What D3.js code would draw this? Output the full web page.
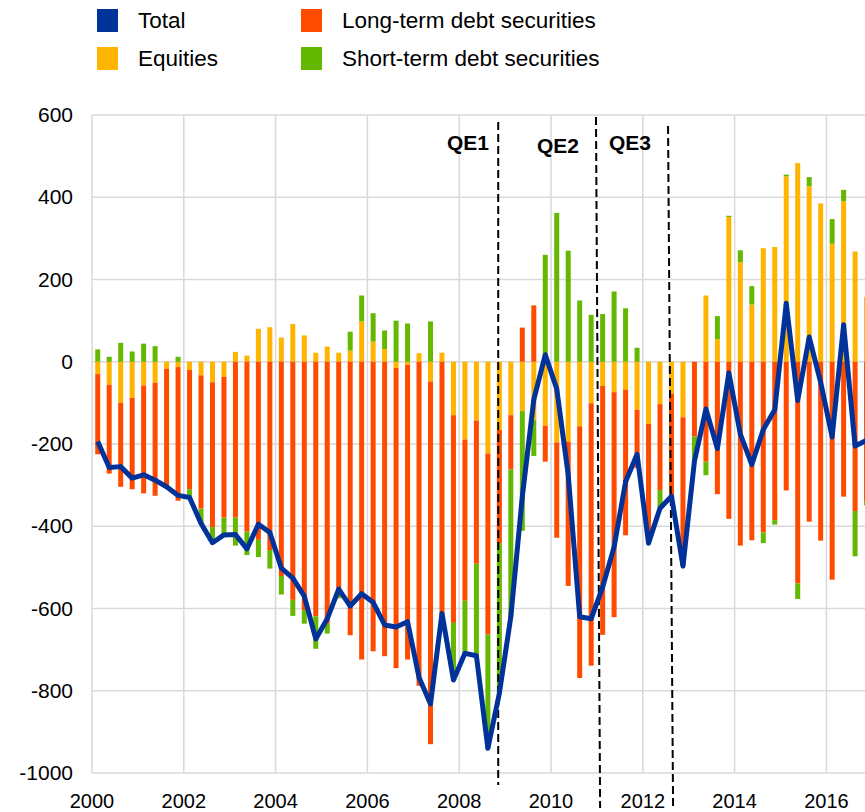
<!DOCTYPE html>
<html>
<head>
<meta charset="utf-8">
<script src="https://cdn.jsdelivr.net/npm/d3@7"></script>
<style>
  body { margin: 0; background: #fff; }
  svg { display: block; font-family: "Liberation Sans", Arial, sans-serif; }
</style>
</head>
<body>
<svg id="chart" width="865" height="812"></svg>
<script>
// quarterly data, 2000Q1 .. 2016Q4
const longTerm = [-195,-216,-204,-222,-262,-275,-287,-325,-290,-324,-352,-342,-379,-413,-433,-458,
  -521,-579,-604,-619,-637,-563,-665,-724,-704,-716,-730,-717,-788,-882,-635,-505,
  -392,-348,-440,-275,-132,83,137,-87,-232,-350,-612,-638,-605,-547,-354,-142,
  -290,-209,-250,-362,-182,-243,-322,-382,-447,-434,-415,-385,-313,-539,-389,-435,
  -530,-328,-363,-339];
const equities = [-30,-56,-100,-88,-58,-51,-17,-13,-20,-33,-50,-37,24,15,80,84,
  59,92,64,22,37,22,27,98,49,31,-15,-7,21,-48,22,-130,
  -189,-143,-223,-166,-130,-120,-142,-156,-196,-195,-157,-101,-59,-74,-68,-117,
  -151,-103,-77,-135,0,161,55,352,242,139,276,279,451,483,427,385,
  287,390,268,158];
const shortTerm = [30,12,46,25,44,38,0,12,-18,-37,-32,-42,-68,-57,-42,-45,
  -45,-39,-33,-79,-24,-12,46,63,69,45,100,93,0,98,0,-139,
  -128,-224,-277,-365,-358,-291,-87,260,362,270,149,114,116,171,130,34,
  0,-44,0,0,-60,-33,56,3,29,45,-26,-11,4,-38,22,0,
  60,28,-110,-10];
const total = [-194,-257,-255,-283,-275,-288,-304,-325,-330,-393,-440,-421,-420,-455,-395,-415,
  -502,-526,-570,-674,-625,-553,-594,-564,-585,-640,-645,-632,-768,-832,-612,-774,
  -709,-715,-940,-806,-620,-328,-92,17,-66,-275,-620,-625,-548,-450,-292,-225,
  -441,-356,-327,-497,-242,-115,-211,-27,-176,-250,-165,-117,142,-94,60,-50,
  -183,90,-205,-191];

const yTicks = [600,400,200,0,-200,-400,-600,-800,-1000];
const xTicks = [2000,2002,2004,2006,2008,2010,2012,2014,2016];

const qeLabels = ["QE1","QE2","QE3"];
const qeStart = [2008.85, 2010.98, 2012.55];   // top of dashed line
const qeEnd = [2008.85, 2011.07, 2012.66];     // bottom of dashed line

const seriesNames = ["Total","Long-term debt securities","Equities","Short-term debt securities"];
const colors = {
  total: "#003299",
  lt: "#FF4B00",
  eq: "#FFB400",
  st: "#65B800"
};

const svg = d3.select("#chart");
const W = 865;
const left = 92;

const x = d3.scaleLinear().domain([2000, 2016]).range([92, 826.4]);
const y = d3.scaleLinear().domain([-1000, 600]).range([773, 115]);

const rows = total.map((t, i) => ({
  date: 2000 + (i + 0.5) / 4,
  eq: equities[i], lt: longTerm[i], st: shortTerm[i], total: t
}));

// grid
svg.append("g").selectAll("line").data(yTicks).join("line")
  .attr("x1", left).attr("x2", W)
  .attr("y1", d => y(d)).attr("y2", d => y(d))
  .attr("stroke", "#d9d9d9").attr("stroke-width", 1.5);
svg.append("g").selectAll("line").data(xTicks).join("line")
  .attr("x1", d => x(d)).attr("x2", d => x(d))
  .attr("y1", y(600)).attr("y2", y(-1000))
  .attr("stroke", "#d9d9d9").attr("stroke-width", 1.5);

// tick labels
svg.append("g").selectAll("text").data(yTicks).join("text")
  .attr("x", 73).attr("y", d => y(d) + 7)
  .attr("text-anchor", "end").attr("font-size", 21).attr("fill", "#000")
  .text(d => d);
svg.append("g").selectAll("text").data(xTicks).join("text")
  .attr("x", d => x(d)).attr("y", 808)
  .attr("text-anchor", "middle").attr("font-size", 20).attr("fill", "#000")
  .text(d => d);

// stacked bars: equities nearest zero, then long-term, then short-term
const keys = ["eq", "lt", "st"];
const stacked = d3.stack().keys(keys).offset(d3.stackOffsetDiverging)(rows);
const barW = 5;

svg.append("g").selectAll("g").data(stacked).join("g")
  .attr("fill", d => colors[d.key])
  .selectAll("rect").data(d => d).join("rect")
  .attr("x", d => x(d.data.date) - barW / 2)
  .attr("width", barW)
  .attr("y", d => y(Math.max(d[0], d[1])))
  .attr("height", d => Math.abs(y(d[0]) - y(d[1])));

// QE markers
const qeTop = [122, 117, 126];
const qeBottom = [785, 808, 808];
qeLabels.forEach((lab, i) => {
  svg.append("line")
    .attr("x1", x(qeStart[i])).attr("x2", x(qeEnd[i]))
    .attr("y1", qeTop[i]).attr("y2", qeBottom[i])
    .attr("stroke", "#000").attr("stroke-width", 2)
    .attr("stroke-dasharray", "8,4");
});
svg.append("text").attr("x", 489).attr("y", 150).attr("text-anchor", "end")
  .attr("font-size", 21).attr("font-weight", "bold").text(qeLabels[0]);
svg.append("text").attr("x", 537).attr("y", 153)
  .attr("font-size", 21).attr("font-weight", "bold").text(qeLabels[1]);
svg.append("text").attr("x", 609).attr("y", 150)
  .attr("font-size", 21).attr("font-weight", "bold").text(qeLabels[2]);

// total line
const line = d3.line().x(d => x(d.date)).y(d => y(d.total));
svg.append("path").datum(rows)
  .attr("d", line)
  .attr("fill", "none")
  .attr("stroke", colors.total)
  .attr("stroke-width", 5)
  .attr("stroke-linejoin", "round");

// legend
const legend = [
  {name: seriesNames[0], c: colors.total, x: 97, y: 9},
  {name: seriesNames[1], c: colors.lt, x: 301, y: 9},
  {name: seriesNames[2], c: colors.eq, x: 97, y: 47},
  {name: seriesNames[3], c: colors.st, x: 301, y: 47}
];
const lg = svg.append("g").selectAll("g").data(legend).join("g")
  .attr("transform", d => `translate(${d.x},${d.y})`);
lg.append("rect").attr("width", 21).attr("height", 23).attr("fill", d => d.c);
lg.append("text").attr("x", 41).attr("y", 19).attr("font-size", 22.5).text(d => d.name);
</script>
</body>
</html>
